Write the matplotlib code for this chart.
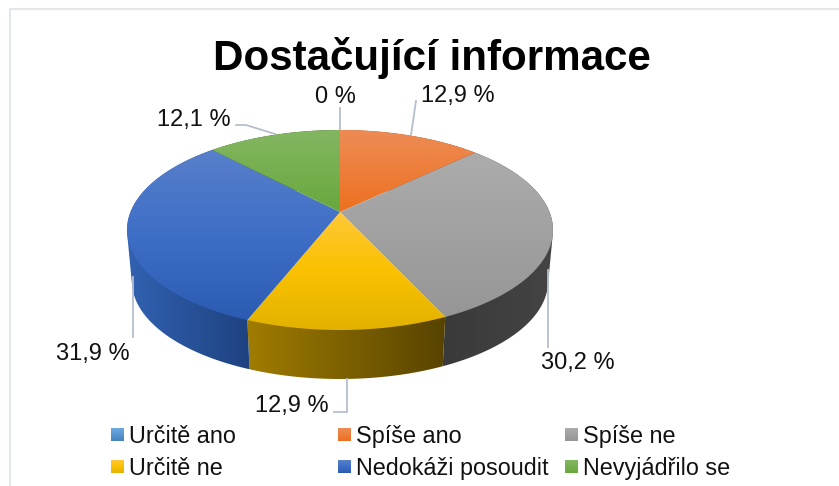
"""
Dostacujici informace - 3D looking pie chart with perspective.
"""
import numpy as np
import matplotlib
matplotlib.use("Agg")
import matplotlib.pyplot as plt
from matplotlib.patches import Polygon

plt.rcParams["font.family"] = ["Liberation Sans", "DejaVu Sans"]

title = "Dostačující informace"
categories = ["Určitě ano", "Spíše ano", "Spíše ne", "Určitě ne", "Nedokáži posoudit", "Nevyjádřilo se"]
values = [0.0, 12.9, 30.2, 12.9, 31.9, 12.1]
value_labels = ["0 %", "12,9 %", "30,2 %", "12,9 %", "31,9 %", "12,1 %"]

# vertical gradients of the top faces
top_colors = [
    [(110, 170, 225), (70, 130, 190)],
    [(238, 140, 85), (237, 112, 32)],
    [(172, 172, 172), (150, 150, 150)],
    [(255, 200, 55), (250, 193, 0), (226, 178, 0)],
    [(88, 128, 203), (62, 110, 198), (44, 92, 178)],
    [(132, 182, 98), (104, 168, 60)],
]
# horizontal gradients of the side walls
side_colors = [
    [(60, 100, 140), (40, 70, 100)],
    [(160, 80, 20), (120, 60, 15)],
    [(58, 58, 58), (68, 68, 68)],
    [(160, 124, 0), (88, 68, 0)],
    [(50, 98, 178), (30, 66, 128)],
    [(70, 110, 40), (50, 80, 30)],
]

CX, CY = 340, 212      # apex of the pie, pixels
RX, RY, PERSP = 209.5, 96.76, 0.18
DEPTH_Y, DEPTH_SCALE = 51.7, 0.977


def project(theta, bottom=False):
    """Disc point at clockwise angle theta -> image pixels."""
    d = 1 + PERSP * np.cos(theta)
    x = RX * np.sin(theta) / d
    y = -RY * np.cos(theta) / d
    if bottom:
        return CX + x * DEPTH_SCALE, CY + DEPTH_Y + y * DEPTH_SCALE
    return CX + x, CY + y


def convex_hull(xs, ys):
    """Monotone chain, the wall has to reach the tangent between both discs."""
    pts = sorted(set(zip(xs.tolist(), ys.tolist())))

    def half(points):
        out = []
        for p in points:
            while len(out) > 1 and ((out[-1][0] - out[-2][0]) * (p[1] - out[-2][1])
                                    - (out[-1][1] - out[-2][1]) * (p[0] - out[-2][0])) <= 0:
                out.pop()
            out.append(p)
        return out[:-1]

    hull = half(pts) + half(pts[::-1])
    return np.array([p[0] for p in hull]), np.array([p[1] for p in hull])


def gradient_fill(ax, xs, ys, stops, horizontal=False, zorder=2):
    """Fill a polygon with a linear gradient, clipped with the polygon."""
    pts = np.column_stack([xs, ys])
    patch = Polygon(pts, closed=True, facecolor="none", edgecolor="none", transform=ax.transData)
    ax.add_patch(patch)
    t = np.linspace(0, 1, 128)
    pos = np.linspace(0, 1, len(stops))
    rgb = np.array([np.interp(t, pos, [s[c] for s in stops]) for c in range(3)]).T / 255
    img = rgb[None, :, :] if horizontal else rgb[:, None, :]
    im = ax.imshow(img, extent=(min(xs), max(xs), max(ys), min(ys)), origin="upper",
                   aspect="auto", interpolation="bilinear", zorder=zorder)
    im.set_clip_path(patch)


fig = plt.figure(figsize=(8.39, 4.86), dpi=100)
ax = fig.add_axes([0, 0, 1, 1])

edges = np.radians(np.cumsum([0] + values) * 3.6)

# side walls first, the top faces hide the back part
for i in range(len(values)):
    if values[i] == 0:
        continue
    th = np.linspace(edges[i], edges[i + 1], 120)
    tx, ty = project(th)
    bx, by = project(th, bottom=True)
    hx, hy = convex_hull(np.r_[tx, bx], np.r_[ty, by])
    gradient_fill(ax, hx, hy, side_colors[i], horizontal=True, zorder=2)

for i in range(len(values)):
    if values[i] == 0:
        continue
    th = np.linspace(edges[i], edges[i + 1], 120)
    tx, ty = project(th)
    gradient_fill(ax, np.r_[CX, tx], np.r_[CY, ty], top_colors[i], zorder=3)

# leader lines
leader = "#B4BFCF"
leaders = [
    ([340, 340], [130, 108]),
    ([411, 416], [135, 101]),
    ([548, 548], [270, 347]),
    ([347, 347, 334], [379, 412, 412]),
    ([133, 133], [277, 337]),
    ([275, 246, 236], [134, 125, 125]),
]
for lx, ly in leaders:
    ax.plot(lx, ly, color=leader, lw=1.3, zorder=2.5, solid_joinstyle="miter")

# value labels
label_pos = [(335, 103), (458, 102), (578, 369), (292, 412), (93, 360), (194, 126)]
for txt, (x, y) in zip(value_labels, label_pos):
    ax.text(x, y, txt, fontsize=17, ha="center", va="baseline", color="#111111", zorder=5)

ax.text(432, 70, title, fontsize=30.3, fontweight="bold", ha="center", va="baseline", color="black")

# legend
legend_x = [111, 338, 565]
legend_y = [428, 460]
for i, name in enumerate(categories):
    x0 = legend_x[i % 3]
    y0 = legend_y[i // 3]
    gradient_fill(ax, [x0, x0 + 13, x0 + 13, x0], [y0, y0, y0 + 13, y0 + 13], top_colors[i], zorder=3)
    ax.text(x0 + 18, y0 + 15, name, fontsize=16.8, ha="left", va="baseline", color="#111111")

# chart frame, only top and left are in the picture
ax.plot([9.5, 9.5, 839], [486, 9.5, 9.5], color="#E3E7EC", lw=1.5, zorder=1)

ax.set_xlim(0, 839)
ax.set_ylim(486, 0)
ax.axis("off")
fig.savefig("out.png", dpi=100, facecolor="white")
plt.close(fig)
